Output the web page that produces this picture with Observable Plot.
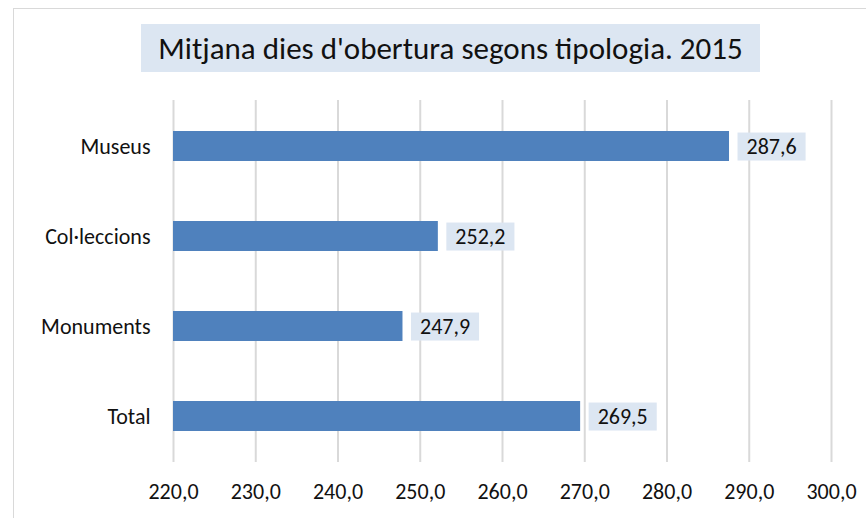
<!DOCTYPE html>
<html>
<head>
<meta charset="utf-8">
<script src="https://cdn.jsdelivr.net/npm/d3@7"></script>
<script src="https://cdn.jsdelivr.net/npm/@observablehq/plot@0.6"></script>
<style>
  body { margin: 0; background: #fff; }
  #wrap { position: relative; width: 866px; height: 518px; overflow: hidden; font-family: Carlito, Lato, "Open Sans", sans-serif; }
  #frame { position: absolute; left: 13px; top: 8px; width: 900px; height: 600px; border: 1px solid #D9D9D9; box-sizing: border-box; }
  #title { position: absolute; left: 141px; top: 24px; width: 619px; height: 48px; background: #DCE6F2; color: #111; font-size: 31px; line-height: 48px; text-align: center; white-space: nowrap; }
  #chart { position: absolute; left: 0; top: 0; }
</style>
</head>
<body>
<div id="wrap">
  <div id="frame"></div>
  <div id="title">Mitjana dies d'obertura segons tipologia. 2015</div>
  <div id="chart"></div>
</div>
<script>
const categories = ["Museus", "Col·leccions", "Monuments", "Total"];
const values = [287.6, 252.2, 247.9, 269.5];
const xTicks = [220, 230, 240, 250, 260, 270, 280, 290, 300];

const fmt = d => d.toFixed(1).replace(".", ",");
const data = categories.map((c, i) => ({cat: c, value: values[i]}));
const font = "Carlito, Lato, 'Open Sans', sans-serif";

const chart = Plot.plot({
  width: 866,
  height: 518,
  marginLeft: 173,
  marginRight: 35,
  marginTop: 100,
  marginBottom: 56,
  style: {fontFamily: font, fontSize: "23px", background: "transparent", color: "#111"},
  x: {domain: [220, 300], label: null},
  y: {domain: categories, label: null, padding: 0},
  marks: [
    Plot.ruleX(xTicks, {stroke: "#D9D9D9", strokeWidth: 2}),
    Plot.barX(data, {x1: () => xTicks[0], x2: "value", y: "cat", fill: "#4F81BD", insetTop: 30, insetBottom: 30}),
    Plot.axisX({ticks: xTicks, tickFormat: fmt, tickSize: 0, tickPadding: 21, fontSize: 22, fill: "#111"}),
    Plot.axisY({tickSize: 0, tickPadding: 23, fontSize: 22, fill: "#111"}),
    Plot.text(data, {x: "value", y: "cat", text: d => fmt(d.value), dx: 17, textAnchor: "start", fontSize: 22, fill: "#111", className: "vlabel"})
  ]
});
document.getElementById("chart").appendChild(chart);

// label background boxes
chart.querySelectorAll(".vlabel text").forEach(t => {
  const b = t.getBBox();
  const r = document.createElementNS("http://www.w3.org/2000/svg", "rect");
  r.setAttribute("x", b.x - 9);
  r.setAttribute("y", b.y);
  r.setAttribute("width", b.width + 18);
  r.setAttribute("height", b.height + 1);
  r.setAttribute("fill", "#DCE6F2");
  const tr = t.getAttribute("transform");
  if (tr) r.setAttribute("transform", tr);
  t.parentNode.insertBefore(r, t);
});
</script>
</body>
</html>
